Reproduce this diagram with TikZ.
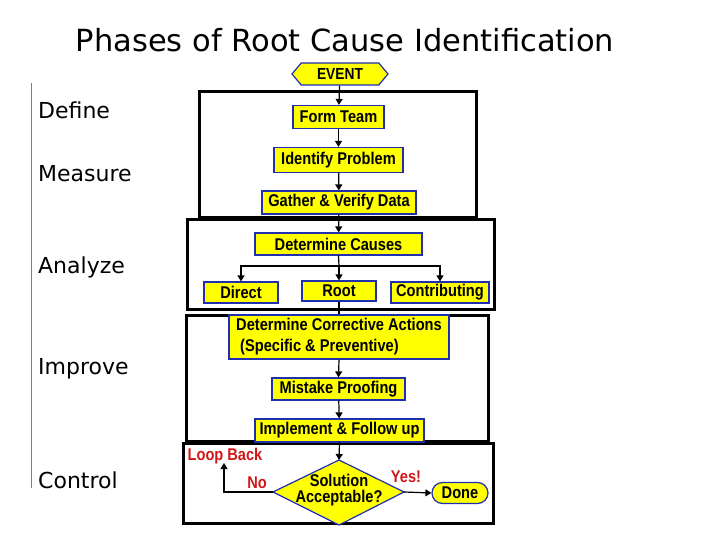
\documentclass[tikz,border=0pt]{standalone}
\usepackage{fontspec}
\setmainfont{DejaVu Sans}
\newfontfamily\boxfont[FakeStretch=0.86]{Liberation Sans}
\usetikzlibrary{arrows.meta,shapes.misc,shapes.symbols,shapes.geometric}
\definecolor{boxyellow}{HTML}{FFFF00}
\definecolor{boxblue}{HTML}{1F2FB0}
\definecolor{lblred}{HTML}{D01818}
\begin{document}
\begin{tikzpicture}[x=1pt,y=-1pt,
  stepbox/.style={draw=boxblue,line width=1.2pt,fill=boxyellow,rectangle,inner sep=0pt,
    font=\boxfont\bfseries\fontsize{17}{20}\selectfont},
  phasebox/.style={draw=black,line width=3pt},
  conn/.style={draw=black,line width=1.2pt},
  arr/.style={conn,-{Triangle[length=6pt,width=7pt]}},
  phase/.style={anchor=base west,inner sep=0pt,font=\fontsize{22}{26}\selectfont},
  redlbl/.style={text=lblred,inner sep=0pt,font=\boxfont\bfseries\fontsize{17}{19}\selectfont}]
\useasboundingbox (0,0) rectangle (720,540);
% title
\node[inner sep=0pt,font=\fontsize{30.5}{36}\selectfont] (title) at (345,40) {Phases of Root Cause Identification};
% left rule and phases
\coordinate (rtop) at (31,83);
\coordinate (rbot) at (31,488);
\draw[gray,line width=1pt] (rtop) -- (rbot);
\node[phase] (define) at (38,119) {Define};
\node[phase] (measure) at (38,182) {Measure};
\node[phase] (analyze) at (38,273) {Analyze};
\node[phase] (improve) at (38,374) {Improve};
\node[phase] (control) at (38,488) {Control};
% phase boxes
\draw[phasebox] (199,92) rectangle (476,218);
\draw[phasebox] (187,220) rectangle (494,309);
\draw[phasebox] (186,315) rectangle (488,441);
\draw[phasebox] (183,443) rectangle (493,523);
% nodes
\node[stepbox,shape=signal,signal to=east and west,signal pointer angle=100,
  minimum width=96pt,minimum height=22pt,font=\boxfont\bfseries\fontsize{16}{18}\selectfont] (event) at (340,74) {EVENT};
\node[stepbox,minimum width=91pt,minimum height=23pt] (form) at (338.5,117) {Form Team};
\node[stepbox,minimum width=129pt,minimum height=25pt] (ident) at (338.5,160) {Identify Problem};
\node[stepbox,minimum width=154pt,minimum height=23pt] (gather) at (339,202.5) {Gather \& Verify Data};
\node[stepbox,minimum width=167pt,minimum height=22pt] (causes) at (338.5,244) {Determine Causes};
\node[stepbox,minimum width=74pt,minimum height=21pt] (direct) at (241,292.5) {Direct};
\node[stepbox,minimum width=74pt,minimum height=20pt] (root) at (339,291) {Root};
\node[stepbox,minimum width=98pt,minimum height=21pt] (contrib) at (440,292.5) {Contributing};
\node[stepbox,minimum width=220pt,minimum height=44pt,align=left,
  font=\boxfont\bfseries\fontsize{17}{21}\selectfont] (correct) at (339,337)
  {Determine Corrective Actions\\\hspace*{4pt}(Specific \& Preventive)};
\node[stepbox,minimum width=133pt,minimum height=22pt] (mistake) at (338.5,389) {Mistake Proofing};
\node[stepbox,minimum width=169pt,minimum height=23pt] (implement) at (339.5,430.5) {Implement \& Follow up};
% decision diamond
\coordinate (dtop) at (339,460);
\coordinate (dright) at (404,492);
\coordinate (dbot) at (339,525);
\coordinate (dleft) at (273,492);
\draw[draw=boxblue,line width=1.2pt,fill=boxyellow] (dtop) -- (dright) -- (dbot) -- (dleft) -- cycle;
\node[inner sep=0pt,align=center,font=\boxfont\bfseries\fontsize{17}{16}\selectfont] (sol) at (339,490) {Solution\\Acceptable?};
\node[stepbox,shape=rounded rectangle,minimum width=56pt,minimum height=21pt] (done) at (460,493) {Done};
% labels
\node[redlbl] (loop) at (225,456) {Loop Back};
\node[redlbl] (no) at (257,483) {No};
\node[redlbl] (yes) at (406,477) {Yes!};
% connectors
\draw[arr] (event) -- (form);
\draw[arr] (form) -- (ident);
\draw[arr] (ident) -- (gather);
\draw[arr] (gather) -- (causes);
\coordinate (split) at (339,266);
\draw[conn] (causes.south) -- (split);
\draw[arr] (split) -| (direct.north);
\draw[arr] (split) -- (root.north);
\draw[arr] (split) -| (contrib.north);
\draw[conn] (root.south) -- (correct.north);
\draw[arr] (correct.south) -- (mistake.north);
\draw[arr] (mistake) -- (implement);
\draw[arr] (implement.south) -- (dtop);
\coordinate (loopend) at (224,463);
\draw[arr] (dleft) -| (loopend);
\draw[arr] (dright) -- (done.west);
\end{tikzpicture}
\end{document}
